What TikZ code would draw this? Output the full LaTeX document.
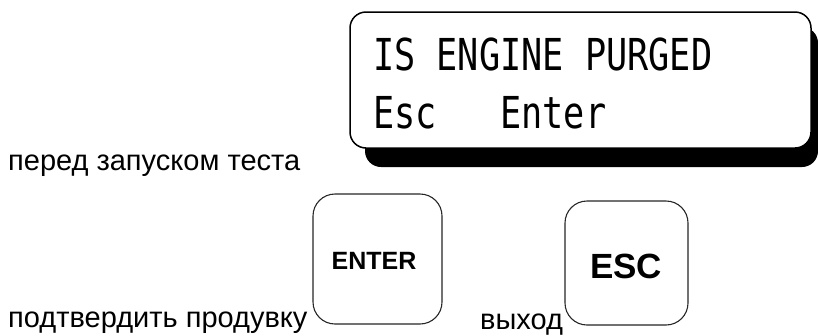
\documentclass[tikz,border=0pt]{standalone}
\usepackage{fontspec}
\setmainfont{Liberation Sans}
\newfontfamily\lcdfont[FakeStretch=0.8]{DejaVu Sans Mono}
\tikzset{
  lbl/.style={inner sep=0pt, anchor=base west, font=\fontsize{29bp}{33bp}\selectfont},
  lcd/.style={inner sep=0pt, anchor=base west, font=\lcdfont\fontsize{44bp}{50bp}\selectfont},
  keybox/.style={draw=black!85, line width=1.1bp, rounded corners=22bp, fill=white},
  keytxt/.style={inner sep=0pt, font=\bfseries}
}
\begin{document}
\begin{tikzpicture}[x=1bp,y=-1bp]
\useasboundingbox (0,0) rectangle (818,335);
% display
\fill[black, rounded corners=16bp] (365,27) rectangle (818,167);
\draw[black, line width=1.5bp, fill=white, rounded corners=16bp] (350,12) rectangle (811,148);
\node[lcd] (l1) at (373,70) {IS ENGINE PURGED};
\node[lcd] (l2) at (373,128) {Esc\ \ \ Enter};
% labels
\node[lbl] (t1) at (8,170) {перед запуском теста};
\node[lbl] (t2) at (8,327) {подтвердить продувку};
\node[lbl] (t3) at (480,329) {выход};
% keys
\draw[keybox] (313,194) rectangle (442,324);
\node[keytxt, font=\bfseries\fontsize{25bp}{28bp}\selectfont] (enter) at (374,260.5) {ENTER};
\draw[keybox] (565,201) rectangle (688,325);
\node[keytxt, font=\bfseries\fontsize{35bp}{40bp}\selectfont] (esc) at (626,266) {ESC};
\end{tikzpicture}
\end{document}
